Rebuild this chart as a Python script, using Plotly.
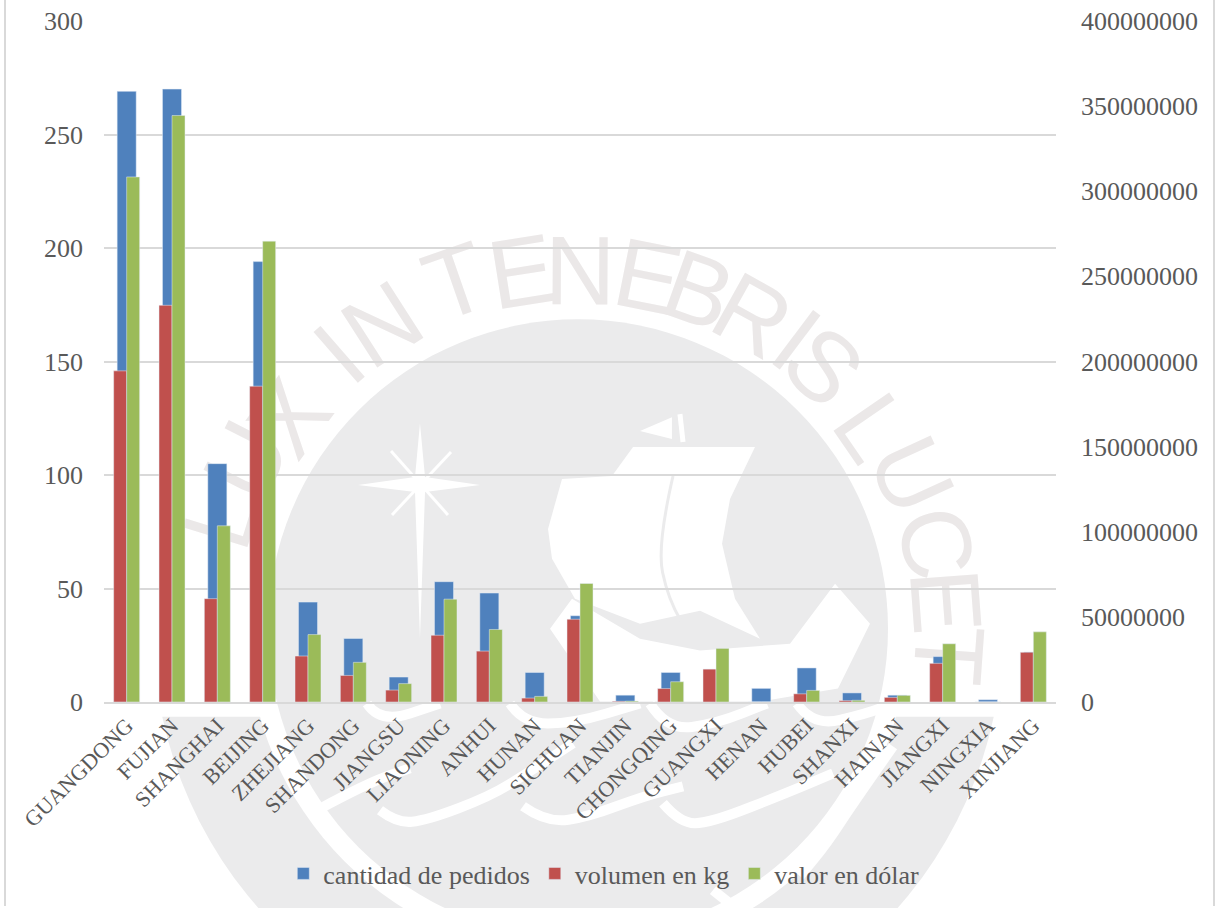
import math
import plotly.graph_objects as go

provinces = ["GUANGDONG", "FUJIAN", "SHANGHAI", "BEIJING", "ZHEJIANG", "SHANDONG", "JIANGSU",
             "LIAONING", "ANHUI", "HUNAN", "SICHUAN", "TIANJIN", "CHONGQING", "GUANGXI", "HENAN",
             "HUBEI", "SHANXI", "HAINAN", "JIANGXI", "NINGXIA", "XINJIANG"]
pedidos = [269, 270, 105, 194, 44, 28, 11, 53, 48, 13, 38, 3, 13, 14, 6, 15, 4, 3, 20, 1, 22]
volumen = [194500000, 233000000, 60700000, 185500000, 27000000, 15600000, 7000000, 39200000,
           29900000, 2300000, 48600000, 400000, 7900000, 19300000, 0, 4800000, 800000, 2700000,
           22700000, 0, 29200000]
valor = [308400000, 344500000, 103500000, 270700000, 39600000, 23300000, 10800000, 60400000,
         42600000, 3300000, 69600000, 500000, 11900000, 31500000, 0, 6800000, 1000000, 3900000,
         34200000, 0, 41200000]

BLUE = "#4F81BD"
RED = "#C0504D"
GREEN = "#9BBB59"
GRID = "#D9D9D9"
TEXT = "#595959"
FONT = "Liberation Serif"
WM_GRAY = "#EBEBEC"

# plot area in pixels, used to place the background crest
LEFT, RIGHT, TOP, BOTTOM = 104, 1056, 21, 703.5
CX, CY = 578, 630


def px_x(x):
    return (x - LEFT) / (RIGHT - LEFT)


def px_y(y):
    return (BOTTOM - y) / (BOTTOM - TOP)


def pt(p):
    return f"{px_x(p[0]):.4f},{px_y(p[1]):.4f}"


def wm_poly(points, color):
    d = "M" + " L".join(pt(p) for p in points) + " Z"
    return dict(type="path", xref="paper", yref="paper", layer="below", path=d,
                fillcolor=color, line=dict(width=0))


# rounded stroke through the points, using their midpoints as curve ends
def wm_stroke(points, width, color="white"):
    d = "M" + pt(points[0])
    for a, b in zip(points[1:-1], points[2:]):
        d += " Q" + pt(a) + " " + pt(((a[0] + b[0]) / 2, (a[1] + b[1]) / 2))
    d += " L" + pt(points[-1])
    return dict(type="path", xref="paper", yref="paper", layer="below", path=d,
                line=dict(width=width, color=color))


def wm_circle(r, color):
    return dict(type="circle", xref="paper", yref="paper", layer="below", x0=px_x(CX - r), x1=px_x(CX + r),
                y0=px_y(CY + r), y1=px_y(CY - r), fillcolor=color, line=dict(width=0))


# lower part of the outer ring of the crest
ring = []
for deg in range(0, 181, 3):
    a = math.radians(deg)
    if CY + 425 * math.sin(a) >= 703:
        ring.append((CX + 425 * math.cos(a), CY + 425 * math.sin(a)))

# letters of the motto round the crest
motto = [("L", 212, 517), ("U", 238, 457), ("X", 282, 413), ("I", 333, 348), ("N", 377, 317),
         ("T", 453, 273), ("E", 520, 263), ("N", 580, 262), ("E", 650, 268), ("B", 702, 282),
         ("R", 757, 308), ("I", 802, 333), ("S", 830, 360), ("L", 880, 423), ("U", 920, 472),
         ("C", 945, 542), ("E", 955, 602), ("T", 958, 657)]

shapes = [wm_poly(ring, WM_GRAY), wm_circle(330, "white"), wm_circle(310, WM_GRAY)]

sail = [(633, 448), (755, 448), (730, 500), (722, 545), (735, 600), (760, 640), (700, 612), (640, 625),
        (575, 600), (552, 560), (548, 530), (562, 480), (612, 477)]
hull = [(550, 630), (572, 600), (640, 640), (700, 652), (790, 645), (835, 585), (870, 625), (838, 690),
        (760, 703), (600, 703)]
shapes += [wm_poly(sail, "white"), wm_poly(hull, "white"),
           wm_stroke([(673, 477), (657, 547), (668, 600), (693, 643)], 3, WM_GRAY),
           wm_poly([(640, 432), (672, 418), (672, 440)], "white"),
           wm_stroke([(680, 415), (683, 443)], 5)]

# star on the left of the ship
shapes += [wm_poly([(420, 424), (425, 478), (480, 486), (425, 493), (420, 640), (415, 493), (358, 486),
                    (415, 478)], "white"),
           wm_stroke([(391, 452), (448, 516)], 3),
           wm_stroke([(451, 453), (392, 516)], 3)]

# waves at the bottom of the crest
waves = [[(317, 812), (367, 785), (410, 770)],
         [(380, 812), (397, 825), (427, 822), (490, 798), (527, 775), (573, 745)],
         [(367, 705), (380, 725), (440, 705)],
         [(510, 705), (523, 725), (573, 725), (640, 705)],
         [(523, 808), (547, 825), (590, 818), (643, 798), (683, 788)],
         [(663, 805), (680, 825), (710, 825), (793, 792), (833, 775)],
         [(893, 748), (853, 805), (827, 845), (800, 878)],
         [(650, 705), (667, 732), (717, 725), (767, 705)],
         [(797, 705), (813, 728), (867, 715), (893, 705)],
         [(713, 892), (733, 908)]]
for wave in waves:
    shapes.append(wm_stroke(wave, 10))

for ch, x, y in motto:
    angle = math.degrees(math.atan2(x - CX, CY - y))
    shapes.append(dict(type="rect", xref="paper", yref="paper", layer="below",
                       x0=px_x(x - 50), x1=px_x(x + 50), y0=px_y(y + 50), y1=px_y(y - 50),
                       fillcolor="rgba(0,0,0,0)", line=dict(width=0),
                       label=dict(text=ch, textangle=angle, textposition="middle center",
                                  font=dict(family="Liberation Sans", size=98, color="#EBE8E8"))))

# chart border, the top and bottom edges fall outside the page
for x in (5, 1214):
    shapes.append(dict(type="line", xref="paper", yref="paper", layer="below", x0=px_x(x), x1=px_x(x),
                       y0=px_y(908), y1=px_y(0), line=dict(color=GRID, width=2)))

fig = go.Figure()
fig.add_trace(go.Bar(x=provinces, y=pedidos, name="cantidad de pedidos", marker_color=BLUE,
                     width=0.42, offset=-0.21, yaxis="y"))
fig.add_trace(go.Bar(x=provinces, y=volumen, name="volumen en kg", marker_color=RED,
                     width=0.2867, offset=-0.2867, yaxis="y2"))
fig.add_trace(go.Bar(x=provinces, y=valor, name="valor en dólar", marker_color=GREEN,
                     width=0.2867, offset=0, yaxis="y2"))

fig.update_layout(
    width=1216,
    height=908,
    autosize=False,
    barmode="overlay",
    paper_bgcolor="white",
    plot_bgcolor="rgba(0,0,0,0)",
    margin=dict(l=LEFT, r=1216 - RIGHT, t=TOP, b=908 - BOTTOM),
    font=dict(family=FONT, size=24, color=TEXT),
    shapes=shapes,
    legend=dict(orientation="h", x=0.525, xanchor="center", y=-0.25, yanchor="middle",
                font=dict(family=FONT, size=26, color=TEXT), bgcolor="rgba(0,0,0,0)"),
    xaxis=dict(tickangle=-45, showgrid=False, showline=True, linecolor=GRID, linewidth=2,
               ticks="", tickfont=dict(family=FONT, size=22, color=TEXT), automargin=False),
    yaxis=dict(range=[0, 300], dtick=50, gridcolor=GRID, gridwidth=1.5, zeroline=False, showline=False,
               ticklabelstandoff=20, tickfont=dict(family=FONT, size=26, color=TEXT), automargin=False),
    yaxis2=dict(range=[0, 400000000], dtick=50000000, overlaying="y", side="right", showgrid=False,
                zeroline=False, showline=False, tickformat="d", ticklabelstandoff=24,
                tickfont=dict(family=FONT, size=26, color=TEXT), automargin=False),
)

fig.write_html("out.html", config={"displayModeBar": False}, post_script="document.body.style.margin='0';")
